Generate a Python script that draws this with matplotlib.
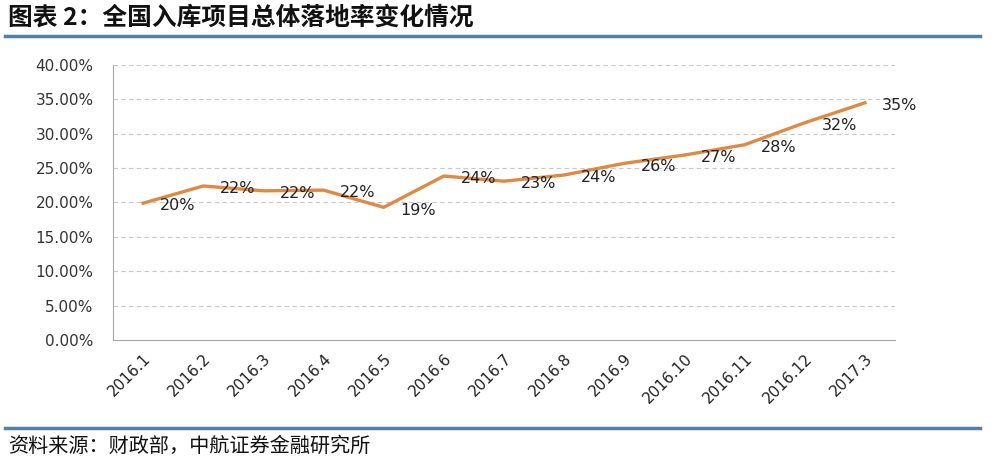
import matplotlib.pyplot as plt
import numpy as np
from matplotlib.lines import Line2D

plt.rcParams['font.family'] = ['Noto Sans CJK SC', 'DejaVu Sans']

months = ["2016.1", "2016.2", "2016.3", "2016.4", "2016.5", "2016.6", "2016.7",
          "2016.8", "2016.9", "2016.10", "2016.11", "2016.12", "2017.3"]
rate = [0.199, 0.224, 0.217, 0.218, 0.193, 0.2385, 0.231, 0.240, 0.257,
        0.269, 0.284, 0.316, 0.345]
labels = ["20%", "22%", "22%", "22%", "19%", "24%", "23%", "24%", "26%",
          "27%", "28%", "32%", "35%"]

fig = plt.figure(figsize=(10.04, 4.66), dpi=100)
ax = fig.add_axes([113 / 1004, 1 - 340 / 466, 782 / 1004, 275 / 466])

x = np.arange(len(months))
ax.plot(x, rate, color="#DE8A45", lw=2.4, solid_joinstyle="round")

for xi, yi, t in zip(x, rate, labels):
    ax.annotate(t, (xi, yi), xytext=(12, -2), textcoords="offset points",
                ha="left", va="center", fontsize=11.5, color="#222222",
                family=["DejaVu Sans"])

ax.set_xlim(-0.5, len(months) - 0.5)
ax.set_ylim(0, 0.40)
yt = np.arange(0, 0.401, 0.05)
ax.set_yticks(yt)
ax.set_yticklabels(["%.2f%%" % (v * 100) for v in yt], fontsize=11,
                   color="#333333", family=["DejaVu Sans"])
ax.set_xticks(x)
ax.set_xticklabels(months, rotation=45, ha="right", rotation_mode="anchor",
                   fontsize=11, color="#222222", family=["DejaVu Sans"])
ax.tick_params(axis="both", length=0)
ax.tick_params(axis="y", pad=14)
ax.tick_params(axis="x", pad=8)

for v in yt[1:]:
    ax.axhline(v, color="#C8C8C8", lw=0.8, ls=(0, (4, 3)), zorder=0)

for s in ["top", "right"]:
    ax.spines[s].set_visible(False)
ax.spines["left"].set_color("#A6A6A6")
ax.spines["bottom"].set_color("#A6A6A6")

fig.text(8 / 1004, 1 - 18 / 466, "图表 2：全国入库项目总体落地率变化情况",
         fontsize=17.8, fontweight="bold", va="center", ha="left", color="#111111")
fig.add_artist(Line2D([5 / 1004, 980 / 1004], [1 - 36 / 466, 1 - 36 / 466],
                      color="#5480A8", lw=2.5))
fig.add_artist(Line2D([5 / 1004, 980 / 1004], [1 - 428 / 466, 1 - 428 / 466],
                      color="#5480A8", lw=2.5))
fig.text(8 / 1004, 1 - 446 / 466, "资料来源：财政部，中航证券金融研究所",
         fontsize=14.5, va="center", ha="left", color="#111111")

fig.savefig("out.png", dpi=100)
